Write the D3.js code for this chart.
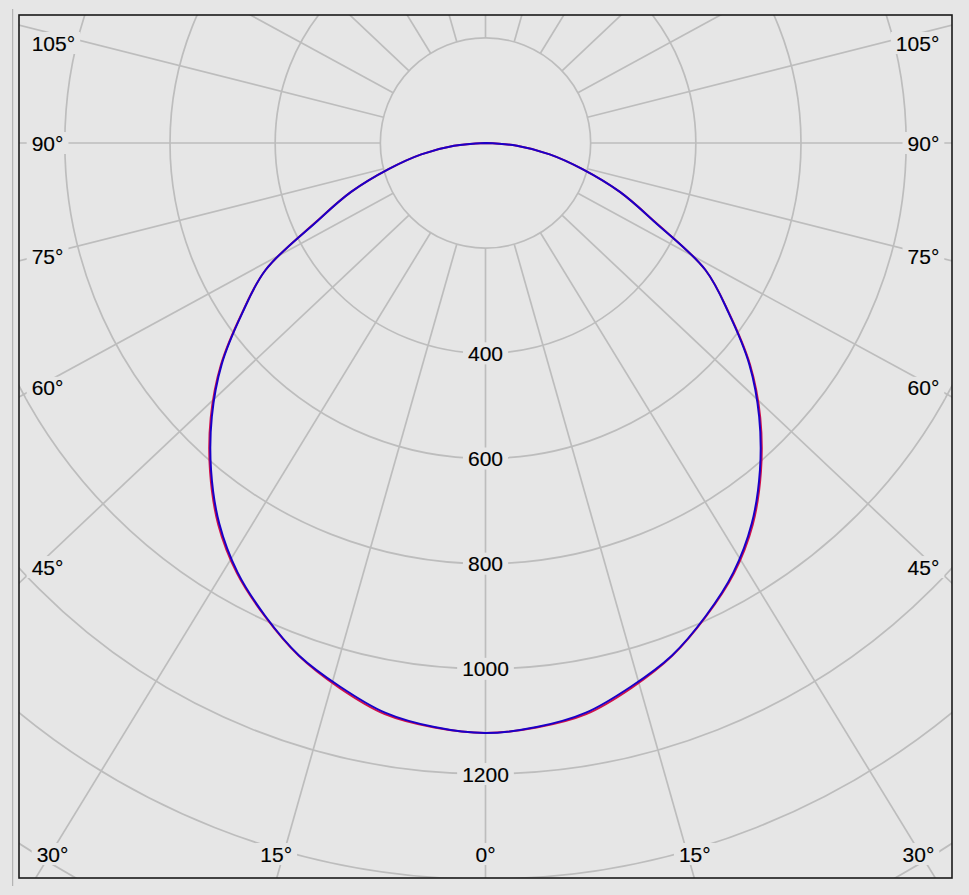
<!DOCTYPE html>
<html><head><meta charset="utf-8">
<script src="https://cdn.jsdelivr.net/npm/d3@7/dist/d3.min.js"></script>
<style>
html,body{margin:0;padding:0;background:#e6e6e6;overflow:hidden}
text{font-family:"Liberation Sans",Arial,sans-serif;font-size:21px;fill:#000;stroke:#000;stroke-width:0.15px}
</style>
</head><body>
<svg id="chart" width="969" height="895"></svg>
<script>
// ---- data ----
const gammaAngles = [-90,-85,-80,-75,-70,-65,-60,-55,-50,-45,-40,-35,-30,-25,-20,-15,-10,-5,0,
                      5,10,15,20,25,30,35,40,45,50,55,60,65,70,75,80,85,90];
const seriesC0C180 = [0,60,124,190,272,356,483,566,657,739,815,886,945,993,1038,1073,1103,1116,1122,
                      1116,1103,1073,1038,993,945,886,815,739,657,566,483,356,272,190,124,60,0];
const seriesC90C270 = [0,60,124,190,272,355,483,565,655,736,812,883,943,992,1037,1070,1100,1115,1122,
                       1115,1100,1070,1037,992,943,883,812,736,655,565,483,355,272,190,124,60,0];
const radiusTicks = [200,400,600,800,1000,1200,1400,1600,1800,2000];
const radiusTickLabels = [400,600,800,1000,1200];
const rayAngles = d3.range(-165, 181, 15);
const angleTickLabels = [0,15,30,45,60,75,90,105];
const seriesColors = {c0: "#d0104a", c90: "#1a00c8"};

// ---- layout ----
const W = 969, H = 895;
const box = {x0: 19, y0: 15, x1: 952, y1: 878};
const cx = (box.x0 + box.x1) / 2, cy = 143;
const skew = 1.06;            // horizontal stretch of the angular grid
const bg = "#e6e6e6", gridCol = "#bdbdbd";

const r = d3.scaleLinear().domain([0, 1200]).range([0, 631]);

const svg = d3.select("#chart");
svg.append("rect").attr("width", W).attr("height", H).attr("fill", bg);
svg.append("line").attr("x1", 12.7).attr("x2", 12.7).attr("y1", 9).attr("y2", 886)
   .attr("stroke", "#a8a8a8").attr("stroke-width", 1);

svg.append("clipPath").attr("id", "clip").append("rect")
   .attr("x", box.x0).attr("y", box.y0).attr("width", box.x1 - box.x0).attr("height", box.y1 - box.y0);

const grid = svg.append("g").attr("clip-path", "url(#clip)");

// circles
grid.selectAll("circle.ring").data(radiusTicks).join("circle")
  .attr("class", "ring").attr("cx", cx).attr("cy", cy).attr("r", d => r(d))
  .attr("fill", "none").attr("stroke", gridCol).attr("stroke-width", 1.7);

// rays
function dirOf(a) {
  const t = a * Math.PI / 180;
  const dx = skew * Math.sin(t), dy = Math.cos(t);
  const n = Math.hypot(dx, dy);
  return [dx / n, dy / n];
}
const r0 = r(radiusTicks[0]);
grid.selectAll("line.ray").data(rayAngles).join("line")
  .attr("class", "ray")
  .attr("x1", a => cx + dirOf(a)[0] * r0).attr("y1", a => cy + dirOf(a)[1] * r0)
  .attr("x2", a => cx + dirOf(a)[0] * 1500).attr("y2", a => cy + dirOf(a)[1] * 1500)
  .attr("stroke", gridCol).attr("stroke-width", 1.7);

// labels with background
const labG = svg.append("g");
function addLabel(txt, x, y, anchor) {
  const g = labG.append("g");
  const rect = g.append("rect").attr("fill", bg);
  const t = g.append("text").attr("x", x).attr("y", y).attr("text-anchor", anchor)
    .attr("dominant-baseline", "central").text(txt);
  const w = t.node().getComputedTextLength();
  let left = anchor === "start" ? x : anchor === "end" ? x - w : x - w / 2;
  rect.attr("x", left - 5).attr("y", y - 11).attr("width", w + 10).attr("height", 22);
  return {t, w, rect};
}

radiusTickLabels.forEach(v => addLabel(String(v), cx, cy + r(v), "middle"));

const sideX = 36, bottomY = 880, labelY = 854, sideInset = 12.7, bottomInset = 17.7;
angleTickLabels.forEach(v => {
  const sides = v === 0 ? [1] : [-1, 1];
  sides.forEach(s => {
    const t = v * Math.PI / 180;
    const txt = v + "°";
    if (v >= 45) {
      let y = cy + (cx - sideX) * Math.cos(t) / (skew * Math.sin(t));
      y = Math.max(y, box.y0 + 28);
      if (s < 0) addLabel(txt, box.x0 + sideInset, y, "start");
      else addLabel(txt, box.x1 - sideInset, y, "end");
    } else {
      const x = cx + s * (bottomY - cy) * skew * Math.tan(t);
      const l = addLabel(txt, x, labelY, "middle");
      const half = l.w / 2;
      const cxl = Math.min(Math.max(x, box.x0 + bottomInset + half), box.x1 - bottomInset - half);
      l.t.attr("x", cxl);
      l.rect.attr("x", cxl - half - 5);
    }
  });
});

// curves
const radial = d3.lineRadial()
  .angle(d => Math.PI - d.a * Math.PI / 180)
  .radius(d => r(d.v))
  .curve(d3.curveCatmullRom.alpha(0.5));
const curveG = svg.append("g").attr("transform", `translate(${cx},${cy})`);
[[seriesC0C180, seriesColors.c0], [seriesC90C270, seriesColors.c90]].forEach(([vals, col]) => {
  curveG.append("path")
    .datum(gammaAngles.map((a, i) => ({a, v: vals[i]})))
    .attr("d", radial).attr("fill", "none").attr("stroke", col).attr("stroke-width", 2)
    .attr("stroke-linejoin", "round");
});

// frame
svg.append("rect").attr("x", box.x0).attr("y", box.y0)
  .attr("width", box.x1 - box.x0).attr("height", box.y1 - box.y0)
  .attr("fill", "none").attr("stroke", "#1a1a1a").attr("stroke-width", 1.6);
</script>
</body></html>
